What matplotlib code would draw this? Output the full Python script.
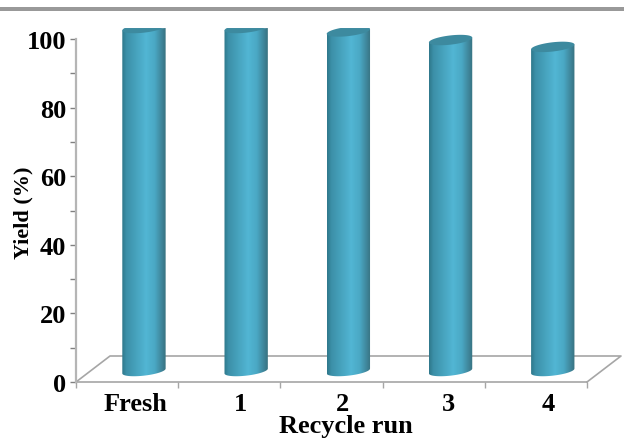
import matplotlib
matplotlib.use('Agg')
import matplotlib.pyplot as plt
import numpy as np
from matplotlib.colors import LinearSegmentedColormap
from matplotlib.patches import Polygon, Rectangle

runs = ['Fresh', '1', '2', '3', '4']
yields = [100, 100, 99, 96.5, 94.5]
yticks = [0, 20, 40, 60, 80, 100]

W, H = 624, 439
plt.rcParams['font.family'] = ['Liberation Serif', 'DejaVu Serif']
plt.rcParams['font.weight'] = 'bold'

fig = plt.figure(figsize=(W / 100, H / 100), dpi=100)
ax = fig.add_axes([76 / W, 1 - 383 / H, (587 - 76) / W, (383 - 40) / H])
ax.patch.set_alpha(0)

# grey band on top of the picture
fig.patches.append(Rectangle((0, 1 - 12 / H), 1, 4 / H, transform=fig.transFigure,
                             color='#999999', lw=0))

# 3d look: everything sits back by this much in data units
depth_x = 34 / 102.2
depth_y = 26 / 3.43
bar_dx = 0.165
bar_dy = 3.2
half_w = 0.212
ell_h = 1.35
tilt = 0.7
top_clip = 103.2

# floor
ax.plot([-0.5, -0.5 + depth_x, 4.5 + depth_x, 4.5],
        [0, depth_y, depth_y, 0], color='#a6a6a6', lw=1.2, clip_on=False, zorder=1)

cmap = LinearSegmentedColormap.from_list('cyl', [
    (0.0, '#2f788b'), (0.1, '#3c90a8'), (0.55, '#52b6d4'),
    (0.75, '#4aa8c4'), (0.93, '#3d8094'), (1.0, '#38727f')])
grad = np.linspace(0, 1, 128).reshape(1, -1)
t = np.linspace(0, 2 * np.pi, 121)

for i, v in enumerate(yields):
    cx = i + bar_dx
    ex = half_w * np.cos(t)
    ey = ell_h * np.sin(t) + tilt * np.cos(t)

    # side of the cylinder, bottom half of the base ellipse then up to the top
    low = t[60:]
    side_x = np.r_[cx + half_w * np.cos(low), cx + half_w, cx - half_w]
    side_y = np.r_[bar_dy + ell_h * np.sin(low) + tilt * np.cos(low),
                   v + bar_dy + tilt, v + bar_dy - tilt]
    side = Polygon(np.c_[side_x, np.minimum(side_y, top_clip)], closed=True,
                   transform=ax.transData, fc='none', ec='none', clip_on=False)
    ax.add_patch(side)
    im = ax.imshow(grad, extent=[cx - half_w, cx + half_w, 0, 105], aspect='auto',
                   cmap=cmap, zorder=3)
    im.set_clip_box(fig.bbox)
    im.set_clip_path(side)

    # top face
    ax.add_patch(Polygon(np.c_[cx + ex, np.minimum(v + bar_dy + ey, top_clip)],
                         closed=True, fc='#3d8a9f', ec='none', zorder=4, clip_on=False))

ax.set_xlim(-0.5, 4.5)
ax.set_ylim(0, 100)

for s in ['top', 'right', 'bottom']:
    ax.spines[s].set_visible(False)
ax.spines['left'].set_color('#b5b5b5')
ax.spines['left'].set_linewidth(1.6)

ax.plot([-0.5, 4.5], [0, 0], color='#a6a6a6', lw=1.2, clip_on=False, zorder=2)

ax.set_yticks(yticks)
ax.set_yticks([10, 30, 50, 70, 90], minor=True)
ax.tick_params(axis='y', which='both', length=4, width=1, color='#808080', pad=3, labelsize=19)
ax.set_xticks(np.arange(-0.5, 5), minor=True)
ax.set_xticks([0.08, 1.11, 2.11, 3.14, 4.12])
ax.set_xticklabels(runs)
ax.tick_params(axis='x', which='major', length=0, pad=7, labelsize=19)
ax.tick_params(axis='x', which='minor', length=4, width=1, color='#a6a6a6')

fig.text(346 / W, 1 - 427 / H, 'Recycle run', fontsize=19, fontweight='bold',
         ha='center', va='center')
fig.text(23 / W, 1 - 213 / H, 'Yield (%)', fontsize=16, fontweight='bold',
         rotation=90, ha='center', va='center')

fig.savefig('out.png', dpi=100)
